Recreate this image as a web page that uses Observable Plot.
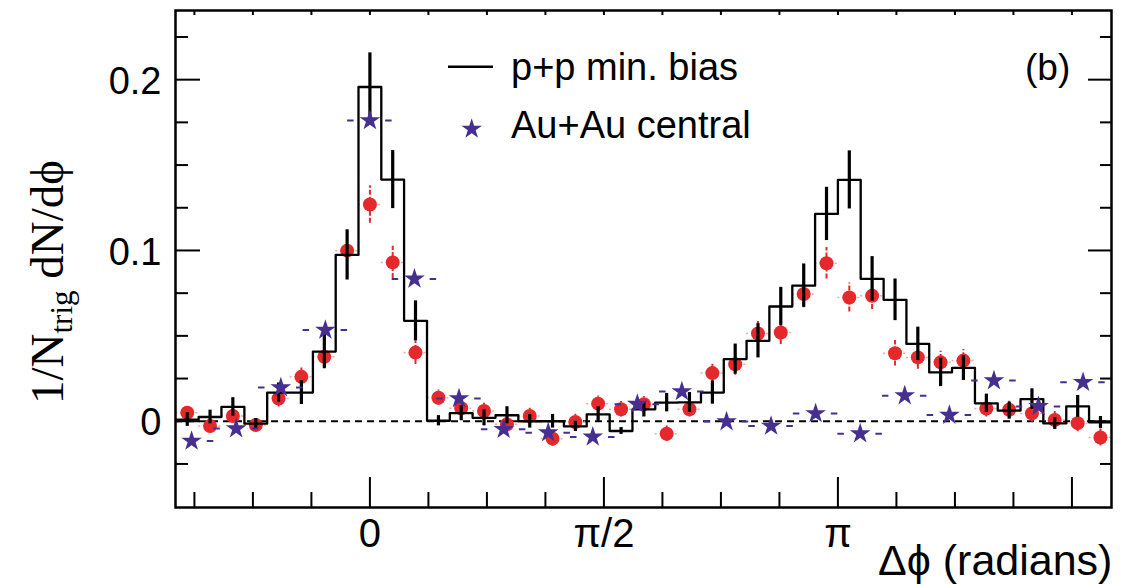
<!DOCTYPE html>
<html><head><meta charset="utf-8">
<script src="https://cdn.jsdelivr.net/npm/d3@7"></script>
<script src="https://cdn.jsdelivr.net/npm/@observablehq/plot@0.6"></script>
<style>html,body{margin:0;padding:0;background:#fff;overflow:hidden}</style>
</head><body><div id="chart"></div>
<script>
// p+p (histogram) and d+Au-like red points share 41 bins over 2π; centers in radians
const dphiPP = [-1.226,-1.073,-0.920,-0.766,-0.613,-0.460,-0.306,-0.153,0,0.153,0.306,0.460,0.613,0.766,0.920,1.073,1.226,1.379,1.532,1.686,1.839,1.992,2.145,2.299,2.452,2.605,2.758,2.912,3.065,3.218,3.371,3.525,3.678,3.831,3.984,4.138,4.291,4.444,4.597,4.751,4.904];
const ppValues = [0.001,0.0025,0.0084,-0.0014,0.0168,0.0168,0.0408,0.0974,0.1957,0.1415,0.0588,0.0003,0.0047,0.002,0.0035,0.0,0.0,-0.003,0.004,-0.0057,0.007,0.0109,0.011,0.0168,0.0364,0.0471,0.0672,0.0794,0.1214,0.1413,0.0834,0.0711,0.0453,0.0286,0.0312,0.0105,0.0062,0.013,-0.0013,0.0087,-0.0007];
const ppErrors = [0.004,0.004,0.0054,0.003,0.0056,0.007,0.010,0.0147,0.020,0.017,0.0117,0.003,0.0044,0.0047,0.005,0.004,0.004,0.003,0.0045,0.002,0.0045,0.0054,0.0058,0.0068,0.0088,0.010,0.0112,0.0127,0.0156,0.017,0.013,0.0122,0.0098,0.0083,0.0073,0.0054,0.005,0.006,0.0035,0.0064,0.0035];
const redValues = [0.005,-0.0028,0.0031,-0.0022,0.0133,0.026,0.0377,0.0999,0.1269,0.093,0.0402,0.0138,0.0076,0.006,-0.0018,0.0031,-0.0102,-0.0004,0.0103,0.007,0.010,-0.0073,0.007,0.0282,0.0334,0.0514,0.052,0.0745,0.0925,0.0725,0.0735,0.0398,0.0374,0.0345,0.0355,0.0075,0.0067,0.0046,0.0007,-0.0011,-0.0095];
const redErrors = [0.004,0.004,0.004,0.004,0.005,0.006,0.007,0.008,0.011,0.0094,0.007,0.0045,0.0045,0.0045,0.0045,0.0045,0.0045,0.0045,0.0045,0.0045,0.0045,0.0045,0.0045,0.006,0.0065,0.007,0.007,0.008,0.0092,0.0085,0.008,0.0075,0.007,0.0065,0.0065,0.005,0.005,0.005,0.005,0.005,0.005];
// Au+Au central: 21 bins over 2π
const dphiAA = [-1.197,-0.898,-0.598,-0.299,0,0.299,0.598,0.898,1.197,1.496,1.795,2.094,2.394,2.693,2.992,3.291,3.590,3.890,4.189,4.488,4.787];
const aaValues = [-0.0116,-0.0043,0.0197,0.0534,0.1761,0.0833,0.0133,-0.0047,-0.0067,-0.0092,0.010,0.0174,-0.0002,-0.0028,0.0045,-0.0073,0.015,0.0036,0.0238,0.0087,0.0228];

const xMajorTicks = [0, 1.5708, 3.1416, 4.7124];
const xTickLabels = ["0", "π/2", "π", ""];
const xMinorTicks = [-1.1781,-0.7854,-0.3927,0.3927,0.7854,1.1781,1.9635,2.3562,2.7489,3.5343,3.9270,4.3197];
const yMajorTicks = [0, 0.1, 0.2];
const yTickLabels = ["0", "0.1", "0.2"];
const yMinorTicks = [-0.025,0.025,0.05,0.075,0.125,0.15,0.175,0.225];

const RED = "#e5282c", PURPLE = "#472f91";
const halfPP = Math.PI / 41, halfAA = Math.PI / 21;

const pp = dphiPP.map((x, i) => ({x, y: ppValues[i], e: ppErrors[i]}));
const red = dphiPP.map((x, i) => ({x, y: redValues[i], e: redErrors[i]}));
const aa = dphiAA.map((x, i) => ({x, y: aaValues[i]}));
const ppSteps = pp.map(d => ({x: d.x - halfPP, y: d.y}))
  .concat([{x: pp[pp.length - 1].x + halfPP, y: pp[pp.length - 1].y}]);

const lab = (ticks, labels) => d => labels[ticks.findIndex(t => Math.abs(t - d) < 1e-6)] ?? "";

const chart = Plot.plot({
  width: 1146, height: 585,
  marginLeft: 175, marginRight: 35, marginTop: 10, marginBottom: 78,
  x: {domain: [-1.305, 4.978], label: null},
  y: {domain: [-0.0505, 0.2405], label: null},
  style: {fontFamily: "'Liberation Sans', Arial, sans-serif", background: "white", color: "black"},
  marks: [
    Plot.ruleY([0], {strokeDasharray: "7,5", strokeWidth: 2}),
    Plot.ruleY(red, {x1: d => d.x - halfPP, x2: d => d.x + halfPP, y: "y", stroke: "#f2a6a6", strokeWidth: 1.5, strokeDasharray: "2,3"}),
    Plot.ruleX(red, {x: "x", y1: d => d.y - d.e, y2: d => d.y + d.e, stroke: RED, strokeWidth: 2, strokeDasharray: "5,2"}),
    Plot.dot(red, {x: "x", y: "y", r: 7, fill: RED}),
    Plot.line(ppSteps, {x: "x", y: "y", curve: "step-after", stroke: "black", strokeWidth: 2.3, clip: true}),
    Plot.ruleX(pp, {x: "x", y1: d => d.y - d.e, y2: d => d.y + d.e, stroke: "black", strokeWidth: 3.2}),
    Plot.ruleY(aa, {x1: d => d.x - halfAA, x2: d => d.x + halfAA, y: "y", stroke: PURPLE, strokeWidth: 2, strokeDasharray: "6.5,31.5", clip: true}),
    Plot.dot(aa, {x: "x", y: "y", symbol: "star", r: 6.5, fill: PURPLE}),
    Plot.axisX({anchor: "bottom", ticks: xMinorTicks, tickSize: -15, tickFormat: () => "", strokeWidth: 2, label: null}),
    Plot.axisX({anchor: "bottom", ticks: xMajorTicks, tickSize: -30, tickFormat: () => "", strokeWidth: 2, label: null}),
    Plot.axisX({anchor: "bottom", ticks: xMajorTicks, tickSize: 0, tickPadding: 11, fontSize: 40, tickFormat: lab(xMajorTicks, xTickLabels), label: null}),
    Plot.axisX({anchor: "top", ticks: xMinorTicks.concat(xMajorTicks), tickSize: -4, tickFormat: () => "", strokeWidth: 2, label: null}),
    Plot.axisY({anchor: "left", ticks: yMinorTicks, tickSize: -13, tickFormat: () => "", strokeWidth: 2, label: null}),
    Plot.axisY({anchor: "left", ticks: yMajorTicks, tickSize: -25, tickFormat: () => "", strokeWidth: 2, label: null}),
    Plot.axisY({anchor: "left", ticks: yMajorTicks, tickSize: 0, tickPadding: 14, fontSize: 38, dy: 2, tickFormat: lab(yMajorTicks, yTickLabels), label: null}),
    Plot.axisY({anchor: "right", ticks: yMinorTicks, tickSize: -12, tickFormat: () => "", strokeWidth: 2, label: null}),
    Plot.axisY({anchor: "right", ticks: yMajorTicks, tickSize: -24, tickFormat: () => "", strokeWidth: 2, label: null}),
    Plot.frame({strokeWidth: 2.5})
  ]
});
document.getElementById("chart").appendChild(chart);

const svg = d3.select(chart);
const sans = "'Liberation Sans', Arial, sans-serif";
const addText = (x, y, size, str) => svg.append("text").attr("x", x).attr("y", y)
  .attr("text-anchor", "start").attr("font-family", sans).attr("font-size", size).attr("fill", "black").text(str);
// Legend
svg.append("line").attr("x1", 448).attr("x2", 493).attr("y1", 66.7).attr("y2", 66.7).attr("stroke", "black").attr("stroke-width", 2.5);
addText(511, 80, 38, "p+p min. bias");
svg.append("path").attr("d", d3.symbol(d3.symbolStar, Math.PI * 42)()).attr("transform", "translate(471.7,129)").attr("fill", PURPLE);
addText(511, 138.3, 38, "Au+Au central");
addText(1025, 80, 37, "(b)");
// x-axis title
addText(878, 575, 43, "Δϕ (radians)");
// y-axis title
const yt = svg.append("text").attr("transform", "translate(63,282) rotate(-90)").attr("text-anchor", "middle")
  .attr("font-family", "'Liberation Serif', 'Times New Roman', serif").attr("font-size", 47).attr("fill", "black");
yt.append("tspan").text("1/N");
yt.append("tspan").attr("font-size", 31).attr("dy", 9).text("trig");
yt.append("tspan").attr("dy", -9).text(" dN/dϕ");
</script>
</body></html>
